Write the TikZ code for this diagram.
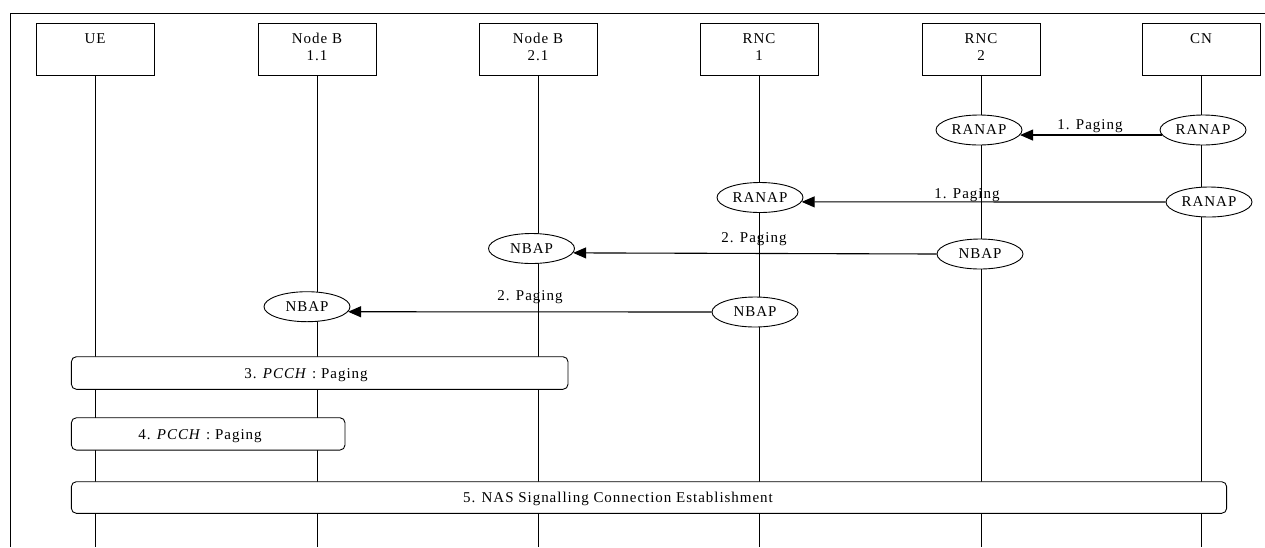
\documentclass[tikz,border=0pt]{standalone}
\usepackage{fontspec}
\setmainfont{Liberation Serif}[LetterSpace=6.5]
\usetikzlibrary{arrows.meta,shapes.geometric}
\begin{document}
\begin{tikzpicture}[x=1pt,y=-1pt,line width=0.9pt,
  font=\fontsize{15}{17}\selectfont,
  actor/.style={draw,rectangle,minimum width=118pt,minimum height=52pt,inner sep=0pt,fill=white},
  txt/.style={anchor=base,inner sep=0pt},
  proto/.style={draw,ellipse,minimum width=86pt,minimum height=30pt,inner sep=0pt,fill=white},
  msg/.style={line width=1.1pt,-{Triangle[length=13pt,width=11pt]}},
  proc/.style={draw,rectangle,rounded corners=5pt,fill=white,inner sep=0pt},
  life/.style={line width=1pt},
  frame/.style={line width=1pt}]
\useasboundingbox (0,0) rectangle (1265,547);
% frame
\coordinate (fbl) at (10,547);
\coordinate (ftl) at (10,13);
\coordinate (ftr) at (1265,13);
\draw[frame] (fbl) -- (ftl) -- (ftr);
% actors
\node[actor] (ue)   at (95,49)   {};
\node[actor] (nb11) at (317,49)  {};
\node[actor] (nb21) at (538,49)  {};
\node[actor] (rnc1) at (759,49)  {};
\node[actor] (rnc2) at (981,49)  {};
\node[actor] (cn)   at (1201,49) {};
\node[txt] (ueA)   at (95,43)   {UE};
\node[txt] (nb11A) at (317,43)  {Node B};
\node[txt] (nb11B) at (317,60)  {1.1};
\node[txt] (nb21A) at (538,43)  {Node B};
\node[txt] (nb21B) at (538,60)  {2.1};
\node[txt] (rnc1A) at (759,43)  {RNC};
\node[txt] (rnc1B) at (759,60)  {1};
\node[txt] (rnc2A) at (981,43)  {RNC};
\node[txt] (rnc2B) at (981,60)  {2};
\node[txt] (cnA)   at (1201,43) {CN};
% lifelines
\coordinate (ueE)   at (95,547);
\coordinate (nb11E) at (317,547);
\coordinate (nb21E) at (538,547);
\coordinate (rnc1E) at (759,547);
\coordinate (rnc2E) at (981,547);
\coordinate (cnE)   at (1201,547);
\draw[life] (ue) -- (ueE);
\draw[life] (nb11) -- (nb11E);
\draw[life] (nb21) -- (nb21E);
\draw[life] (rnc1) -- (rnc1E);
\draw[life] (rnc2) -- (rnc2E);
\draw[life] (cn) -- (cnE);
% protocol ellipses
\node[proto] (r1a) at (979,130)   {RANAP};
\node[proto] (r1b) at (1203,130)  {RANAP};
\node[proto] (r2a) at (760,197.5) {RANAP};
\node[proto] (r2b) at (1209,202)  {RANAP};
\node[proto] (n3a) at (531.5,248.5) {NBAP};
\node[proto] (n3b) at (980,254)   {NBAP};
\node[proto] (n4a) at (307,306.7) {NBAP};
\node[proto] (n4b) at (755,312)   {NBAP};
% messages
\draw[msg] (r1b.187) -- (r1a.-7);
\draw[msg] (r2b.west) -- (r2a.-6);
\draw[msg] (n3b.west) -- (n3a.-6.3);
\draw[msg] (n4b.west) -- (n4a.-7.5);
\node[txt] (m1) at (1090,129) {1. Paging};
\node[txt] (m2) at (967,198)  {1. Paging};
\node[txt] (m3) at (754,242)  {2. Paging};
\node[txt] (m4) at (530,300)  {2. Paging};
% procedures
\node[proc,minimum width=496.6pt,minimum height=32.6pt] (p3) at (319.7,373) {};
\node[proc,minimum width=273.6pt,minimum height=32.3pt] (p4) at (208.2,433.9) {};
\node[proc,minimum width=1155.3pt,minimum height=31.6pt] (p5) at (649,497.5) {};
\node[txt] (p3t) at (306,378) {3. \textit{PCCH} : Paging};
\node[txt] (p4t) at (200,439) {4. \textit{PCCH} : Paging};
\node[txt] (p5t) at (618,502.5) {5. NAS Signalling Connection Establishment};
\end{tikzpicture}
\end{document}
